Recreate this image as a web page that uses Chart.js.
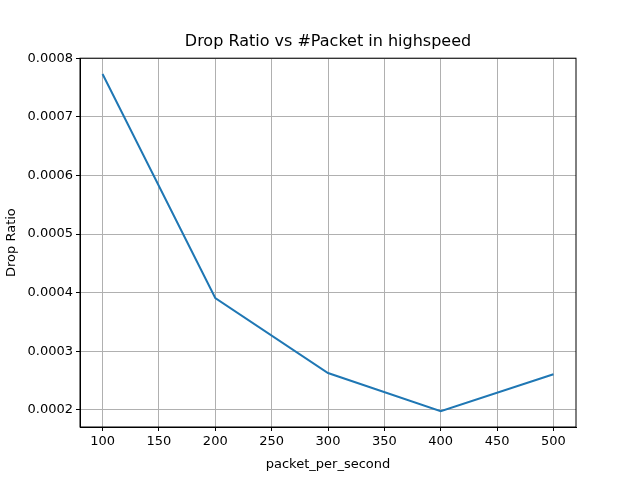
<!DOCTYPE html>
<html>
<head>
<script src="https://cdn.jsdelivr.net/npm/chart.js@4"></script>
<style>body{margin:0;background:#fff}#wrap{width:640px;height:480px}</style>
</head>
<body>
<div id="wrap"><canvas id="c" width="640" height="480"></canvas></div>
<script>
const packetRates = [100, 200, 300, 400, 500];
const dropRatios = [0.000773, 0.000391, 0.000263, 0.000198, 0.000261];
const xTicks = [100, 150, 200, 250, 300, 350, 400, 450, 500];
const yTicks = [0.0002, 0.0003, 0.0004, 0.0005, 0.0006, 0.0007, 0.0008];

const font = { family: 'DejaVu Sans', size: 13 };
new Chart(document.getElementById('c'), {
    type: 'line',
    data: {
        datasets: [{
            data: packetRates.map((x, i) => ({ x: x, y: dropRatios[i] })),
            borderColor: '#1f77b4',
            borderWidth: 2,
            pointRadius: 0,
            tension: 0
        }]
    },
    options: {
        responsive: false,
        animation: false,
        layout: { padding: { left: 0, right: 64, top: 0, bottom: 0 } },
        plugins: {
            legend: { display: false },
            tooltip: { enabled: false },
            title: {
                display: true,
                fullSize: false,
                text: 'Drop Ratio vs #Packet in highspeed',
                color: '#000',
                font: { family: 'DejaVu Sans', size: 16, weight: 'normal' },
                padding: { top: 32, bottom: 7 }
            }
        },
        scales: {
            x: {
                type: 'linear', min: 80, max: 520,
                afterBuildTicks: s => { s.ticks = xTicks.map(v => ({ value: v })); },
                afterFit: s => { s.height = 53; },
                grid: { color: '#b0b0b0', tickColor: '#000', tickLength: 4 },
                border: { color: '#000' },
                ticks: { color: '#000', font: font, maxRotation: 0, padding: 3 },
                title: { display: true, text: 'packet_per_second', color: '#000', font: font, padding: { top: 0, bottom: 8 } }
            },
            y: {
                min: 0.000171, max: 0.0008,
                afterBuildTicks: s => { s.ticks = yTicks.map(v => ({ value: v })); },
                afterFit: s => { s.width = 80; },
                grid: { color: '#b0b0b0', tickColor: '#000', tickLength: 4 },
                border: { color: '#000' },
                ticks: { color: '#000', font: font, padding: 3, callback: v => v.toFixed(4) },
                title: { display: true, text: 'Drop Ratio', color: '#000', font: font, padding: { bottom: 2 } }
            }
        }
    },
    plugins: [{
        id: 'frame',
        afterDraw(chart) {
            const a = chart.chartArea, c = chart.ctx;
            c.save(); c.strokeStyle = '#000'; c.lineWidth = 1;
            c.strokeRect(a.left, a.top, a.right - a.left, a.bottom - a.top);
            c.restore();
        }
    }]
});
</script>
</body>
</html>
